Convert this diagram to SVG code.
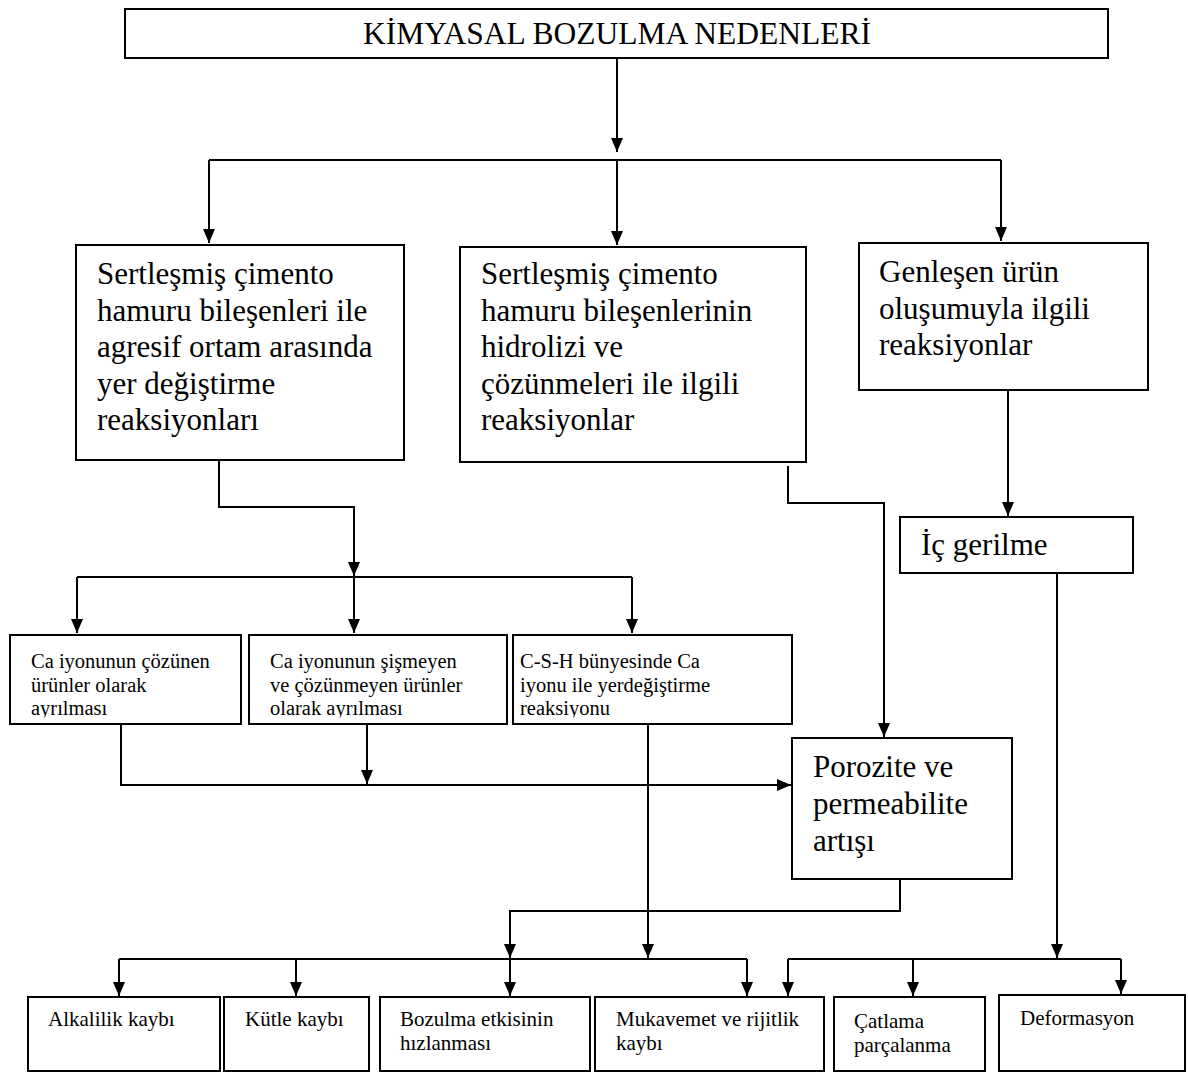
<svg xmlns="http://www.w3.org/2000/svg" width="1188" height="1074" viewBox="0 0 1188 1074">
<style>
.box{fill:#fff;stroke:#000;stroke-width:2}
.t{font-family:"Liberation Serif","Times New Roman",serif;fill:#000}
.big{font-size:31px}
.sm{font-size:20.5px}
.bt{font-size:21px}
.c{fill:none;stroke:#000;stroke-width:2}
.a{fill:none;stroke:#000;stroke-width:2;marker-end:url(#ah)}
</style>
<defs>
<marker id="ah" viewBox="0 0 14 12" refX="14" refY="6" markerWidth="14" markerHeight="12" markerUnits="userSpaceOnUse" orient="auto">
<path d="M0,0 L14,6 L0,12 z" fill="#000"/>
</marker>
<clipPath id="clipSmall"><rect x="0" y="630" width="800" height="87.5"/></clipPath>
</defs>
<rect width="1188" height="1074" fill="#fff"/>

<g id="connectors">
<path class="a" d="M617,58 V152"/>
<path class="c" d="M209,160 H1001"/>
<path class="a" d="M209,160 V243"/>
<path class="a" d="M617,160 V245"/>
<path class="a" d="M1001,160 V241"/>
<path class="a" d="M219,461 V507 H354 V576"/>
<path class="c" d="M77,577 H632"/>
<path class="a" d="M77,577 V633"/>
<path class="a" d="M354,577 V633"/>
<path class="a" d="M632,577 V633"/>
<path class="a" d="M788,466 V503 H884 V737"/>
<path class="a" d="M1008,391 V516"/>
<path class="a" d="M121,725 V785 H791"/>
<path class="a" d="M367,725 V784"/>
<path class="a" d="M648,725 V958"/>
<path class="a" d="M900,880 V911 H510 V958"/>
<path class="c" d="M119,959 H747"/>
<path class="a" d="M119,959 V996"/>
<path class="a" d="M296,959 V996"/>
<path class="a" d="M510,959 V996"/>
<path class="a" d="M747,959 V996"/>
<path class="a" d="M1057,574 V958"/>
<path class="c" d="M788,959 H1121"/>
<path class="a" d="M788,959 V996"/>
<path class="a" d="M913,959 V996"/>
<path class="a" d="M1121,959 V994"/>
</g>

<g id="n-title">
<rect class="box" x="125" y="9" width="983" height="49"/>
<text class="t" x="617" y="44" font-size="31.5" text-anchor="middle">KİMYASAL BOZULMA NEDENLERİ</text>
</g>

<g id="n-yerdegistirme">
<rect class="box" x="76" y="245" width="328" height="215"/>
<text class="t big"><tspan x="97" y="284">Sertleşmiş çimento</tspan><tspan x="97" y="320.5">hamuru bileşenleri ile</tspan><tspan x="97" y="357">agresif ortam arasında</tspan><tspan x="97" y="393.5">yer değiştirme</tspan><tspan x="97" y="430">reaksiyonları</tspan></text>
</g>

<g id="n-hidroliz">
<rect class="box" x="460" y="247" width="346" height="215"/>
<text class="t big"><tspan x="481" y="284">Sertleşmiş çimento</tspan><tspan x="481" y="320.5">hamuru bileşenlerinin</tspan><tspan x="481" y="357">hidrolizi ve</tspan><tspan x="481" y="393.5">çözünmeleri ile ilgili</tspan><tspan x="481" y="430">reaksiyonlar</tspan></text>
</g>

<g id="n-genlesen">
<rect class="box" x="859" y="243" width="289" height="147"/>
<text class="t big"><tspan x="879" y="282">Genleşen ürün</tspan><tspan x="879" y="318.5">oluşumuyla ilgili</tspan><tspan x="879" y="355">reaksiyonlar</tspan></text>
</g>

<g id="n-icgerilme">
<rect class="box" x="900" y="517" width="233" height="56"/>
<text class="t big" x="921" y="555">İç gerilme</text>
</g>

<g id="n-ca-cozunen">
<rect class="box" x="10" y="635" width="231" height="89"/>
<text class="t sm" clip-path="url(#clipSmall)"><tspan x="31" y="668">Ca iyonunun çözünen</tspan><tspan x="31" y="691.5">ürünler olarak</tspan><tspan x="31" y="715">ayrılması</tspan></text>
</g>

<g id="n-ca-sismeyen">
<rect class="box" x="249" y="635" width="258" height="89"/>
<text class="t sm" clip-path="url(#clipSmall)"><tspan x="270" y="668">Ca iyonunun şişmeyen</tspan><tspan x="270" y="691.5">ve çözünmeyen ürünler</tspan><tspan x="270" y="715">olarak ayrılması</tspan></text>
</g>

<g id="n-csh">
<rect class="box" x="513" y="635" width="279" height="89"/>
<text class="t sm" clip-path="url(#clipSmall)"><tspan x="520" y="668">C-S-H bünyesinde Ca</tspan><tspan x="520" y="691.5">iyonu ile yerdeğiştirme</tspan><tspan x="520" y="715">reaksiyonu</tspan></text>
</g>

<g id="n-porozite">
<rect class="box" x="792" y="738" width="220" height="141"/>
<text class="t big"><tspan x="813" y="777">Porozite ve</tspan><tspan x="813" y="814">permeabilite</tspan><tspan x="813" y="851">artışı</tspan></text>
</g>

<g id="n-alkalilik">
<rect class="box" x="28" y="997" width="192" height="74"/>
<text class="t bt" x="48" y="1026">Alkalilik kaybı</text>
</g>

<g id="n-kutle">
<rect class="box" x="224" y="997" width="145" height="74"/>
<text class="t bt" x="245" y="1026">Kütle kaybı</text>
</g>

<g id="n-bozulma">
<rect class="box" x="380" y="997" width="210" height="74"/>
<text class="t bt"><tspan x="400" y="1026">Bozulma etkisinin</tspan><tspan x="400" y="1050">hızlanması</tspan></text>
</g>

<g id="n-mukavemet">
<rect class="box" x="595" y="997" width="229" height="74"/>
<text class="t bt"><tspan x="616" y="1026">Mukavemet ve rijitlik</tspan><tspan x="616" y="1050">kaybı</tspan></text>
</g>

<g id="n-catlama">
<rect class="box" x="834" y="997" width="151" height="74"/>
<text class="t bt"><tspan x="854" y="1028">Çatlama</tspan><tspan x="854" y="1052">parçalanma</tspan></text>
</g>

<g id="n-deformasyon">
<rect class="box" x="999" y="995" width="186" height="76"/>
<text class="t bt" x="1020" y="1025">Deformasyon</text>
</g>
</svg>
